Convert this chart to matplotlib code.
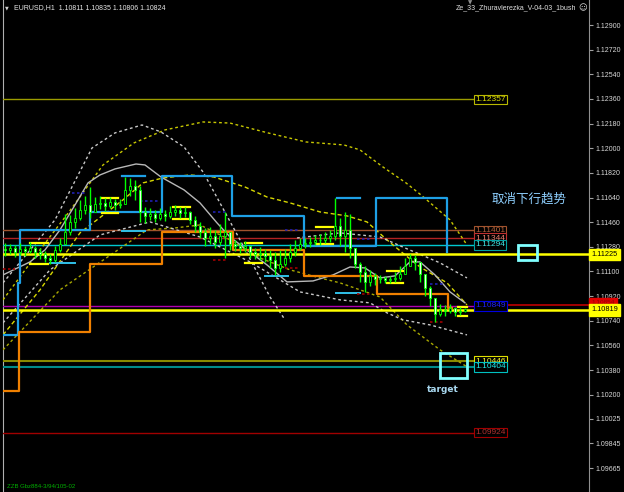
import matplotlib
matplotlib.use("Agg")
import matplotlib.pyplot as plt
from matplotlib.patches import Rectangle
import numpy as np

plt.rcParams['font.family'] = ['Liberation Sans', 'DejaVu Sans']

# ---------------- data ----------------
first_open = 1.11265
close = [1.11258, 1.11272, 1.11243, 1.11265, 1.11250, 1.11272, 1.11243, 1.11228, 1.11199, 1.11185,
         1.11258, 1.11301, 1.11389, 1.11462, 1.11491, 1.11550, 1.11586, 1.11535, 1.11593, 1.11601,
         1.11579, 1.11608, 1.11586, 1.11593, 1.11696, 1.11725, 1.11696, 1.11535, 1.11506, 1.11520,
         1.11491, 1.11520, 1.11506, 1.11535, 1.11550, 1.11528, 1.11535, 1.11477, 1.11433, 1.11389,
         1.11345, 1.11360, 1.11316, 1.11360, 1.11389, 1.11301, 1.11287, 1.11272, 1.11287, 1.11243,
         1.11228, 1.11236, 1.11214, 1.11185, 1.11126, 1.11155, 1.11199, 1.11243, 1.11272, 1.11301,
         1.11309, 1.11316, 1.11331, 1.11331, 1.11345, 1.11360, 1.11433, 1.11360, 1.11404, 1.11272,
         1.11155, 1.11097, 1.11024, 1.11068, 1.11046, 1.11053, 1.11039, 1.11046, 1.11053, 1.11082,
         1.11141, 1.11199, 1.11170, 1.11082, 1.10980, 1.10907, 1.10790, 1.10820, 1.10812, 1.10834,
         1.10805, 1.10811, 1.10824]
high = [1.11309, 1.11301, 1.11294, 1.11309, 1.11287, 1.11316, 1.11287, 1.11272, 1.11250, 1.11228,
        1.11287, 1.11345, 1.11520, 1.11513, 1.11564, 1.11623, 1.11652, 1.11717, 1.11644, 1.11652,
        1.11637, 1.11644, 1.11630, 1.11630, 1.11790, 1.11783, 1.11769, 1.11725, 1.11571, 1.11564,
        1.11550, 1.11564, 1.11550, 1.11579, 1.11586, 1.11571, 1.11571, 1.11542, 1.11506, 1.11462,
        1.11418, 1.11425, 1.11404, 1.11447, 1.11535, 1.11360, 1.11331, 1.11316, 1.11323, 1.11287,
        1.11272, 1.11279, 1.11265, 1.11258, 1.11243, 1.11258, 1.11265, 1.11301, 1.11331, 1.11345,
        1.11345, 1.11352, 1.11367, 1.11374, 1.11389, 1.11404, 1.11637, 1.11491, 1.11535, 1.11520,
        1.11228, 1.11170, 1.11141, 1.11112, 1.11090, 1.11075, 1.11068, 1.11068, 1.11097, 1.11141,
        1.11199, 1.11228, 1.11221, 1.11170, 1.11068, 1.10995, 1.10863, 1.10863, 1.10856, 1.10863,
        1.10841, 1.10841, 1.10835]
low = [1.11214, 1.11228, 1.11206, 1.11221, 1.11214, 1.11236, 1.11199, 1.11192, 1.11170, 1.11155,
       1.11170, 1.11243, 1.11316, 1.11367, 1.11418, 1.11477, 1.11520, 1.11491, 1.11550, 1.11557,
       1.11542, 1.11564, 1.11550, 1.11564, 1.11593, 1.11652, 1.11623, 1.11462, 1.11455, 1.11477,
       1.11462, 1.11477, 1.11469, 1.11491, 1.11506, 1.11491, 1.11498, 1.11447, 1.11389, 1.11345,
       1.11287, 1.11301, 1.11272, 1.11294, 1.11199, 1.11258, 1.11250, 1.11236, 1.11243, 1.11199,
       1.11192, 1.11185, 1.11170, 1.11126, 1.11075, 1.11097, 1.11141, 1.11170, 1.11214, 1.11258,
       1.11272, 1.11279, 1.11294, 1.11294, 1.11309, 1.11316, 1.11331, 1.11287, 1.11243, 1.11199,
       1.11126, 1.11024, 1.10951, 1.10995, 1.11002, 1.11017, 1.11017, 1.11017, 1.11024, 1.11039,
       1.11082, 1.11141, 1.11112, 1.11024, 1.10922, 1.10849, 1.10732, 1.10776, 1.10776, 1.10798,
       1.10776, 1.10783, 1.10806]

# step channels (bar position of each change, level)
blue_x = [-0.4, 2.6, 3.0, 17.0, 31.4, 45.4, 59.8, 74.2, 88.4]
blue_y = [1.10637, 1.11017, 1.11404, 1.11535, 1.11798, 1.11506, 1.11287, 1.11637, 1.11243]
orange_x = [-0.4, 2.8, 17.0, 31.4, 45.6, 59.8, 74.4, 88.6, 89.4]
orange_y = [1.10228, 1.10659, 1.11155, 1.11389, 1.11258, 1.11068, 1.10936, 1.10834, 1.10834]

# swing high/low markers: (start, end, level)
blue_marks = [(23.4, 28.0, 1.11798), (66.4, 71.0, 1.11637)]
cyan_marks = [(9.0, 14.0, 1.11163), (23.4, 28.0, 1.11396), (52.0, 56.6, 1.11068), (66.2, 71.0, 1.10944)]
day_hi_lo = [(5.0, 8.6, 1.11309, 1.11155), (19.4, 22.6, 1.11637, 1.11528), (33.6, 37.0, 1.11571, 1.11484),
             (48.0, 51.4, 1.11309, 1.11163), (62.2, 65.6, 1.11425, 1.11301), (76.4, 79.6, 1.11104, 1.11017),
             (90.6, 92.4, 1.10841, 1.10776)]
navy_marks = [(13.4, 16.0, 1.11674), (27.0, 30.6, 1.11615), (41.6, 44.6, 1.11535), (56.0, 59.0, 1.11404),
              (70.4, 73.4, 1.11338), (85.0, 87.6, 1.11009)]
darkred_marks = [(-0.4, 2.0, 1.11119), (41.6, 44.6, 1.11185), (56.0, 59.0, 1.11126), (70.4, 73.4, 1.10936),
                 (85.0, 87.6, 1.10732)]

# curves
ma_x = [-0.4, 5, 8, 11, 14, 16.6, 19, 22, 26.2, 28, 31.2, 35.8, 39, 42.4, 45, 48.4, 52.4, 56.4, 61.6, 65.6,
        69, 72, 75, 78, 81, 83, 86, 89, 92]
ma_y = [1.11075, 1.11170, 1.11258, 1.11404, 1.11586, 1.11747, 1.11805, 1.11849, 1.11885, 1.11878, 1.11790,
        1.11696, 1.11601, 1.11455, 1.11352, 1.11258, 1.11148, 1.11024, 1.11031, 1.11075, 1.11133, 1.11126,
        1.11053, 1.11068, 1.11170, 1.11170, 1.11075, 1.10951, 1.10871]
w_up_x = [-0.4, 10, 17.4, 22, 27.4, 31.2, 35.8, 39.6, 41.8, 47, 53, 56]
w_up_y = [1.11017, 1.11477, 1.12002, 1.12112, 1.12170, 1.12119, 1.12010, 1.11827, 1.11681, 1.11331, 1.10914, 1.10747]
w_up2_x = [58.4, 67, 75, 80, 87, 92.4]
w_up2_y = [1.11345, 1.11382, 1.11352, 1.11272, 1.11163, 1.11053]
w_lo_x = [-0.4, 9, 19, 29, 39, 49, 59, 67, 73, 76.4, 79.6, 85, 92.4]
w_lo_y = [1.10725, 1.11112, 1.11367, 1.11462, 1.11352, 1.11170, 1.10951, 1.10893, 1.10871, 1.10798, 1.10747,
          1.10710, 1.10637]
y1_x = [-0.4, 7, 12.8, 19.6, 25.8, 32, 39.6, 45, 52.6, 60.2, 67.8, 71, 75.6, 80.2, 83.2, 89, 92.4]
y1_y = [1.10893, 1.11258, 1.11535, 1.11878, 1.12039, 1.12134, 1.12192, 1.12184, 1.12112, 1.12046, 1.12024,
        1.11988, 1.11863, 1.11747, 1.11659, 1.11477, 1.11294]
y2_x = [-0.4, 7, 15, 23.6, 27.6, 31.6, 37, 41.8, 48, 52.4, 57, 63, 68.4, 72.4, 76.4, 80, 83, 88.4, 92.4]
y2_y = [1.10637, 1.10966, 1.11382, 1.11623, 1.11747, 1.11783, 1.11805, 1.11790, 1.11717, 1.11644, 1.11601,
        1.11535, 1.11506, 1.11462, 1.11331, 1.11221, 1.11133, 1.11017, 1.10856]
y3_x = [-0.4, 11, 28.4, 34, 39, 45, 51, 57, 63, 67, 71, 75, 80.4, 87, 92.4]
y3_y = [1.10528, 1.10966, 1.11404, 1.11418, 1.11440, 1.11331, 1.11199, 1.11112, 1.11053, 1.11017, 1.10966,
        1.10914, 1.10710, 1.10528, 1.10404]

# labelled levels: value, line colour, text colour
levels = [1.12357, 1.11401, 1.11344, 1.11294, 1.10849, 1.10446, 1.10404, 1.09924]
level_line = ['#9C9C00', '#A0522D', '#B22222', '#00C8D0', '#B000B0', '#8A8A00', '#008B8B', '#A00000']
level_text = ['#E0E000', '#B0603A', '#F08070', '#40E8E8', '#2020FF', '#FFFF30', '#20F0F0', '#B03030']
level_edge = ['#B8B800', '#A0522D', '#C03030', '#00A0A0', '#0000E0', '#E0E000', '#00C0C0', '#A00000']
yellow_levels = [1.11225, 1.10819]
red_level = 1.10854

tick_vals = [1.12900, 1.12720, 1.12540, 1.12360, 1.12180, 1.12000, 1.11820, 1.11640, 1.11460, 1.11280,
             1.11100, 1.10920, 1.10740, 1.10560, 1.10380, 1.10200, 1.10025, 1.09845, 1.09665]
tick_labels = ['1.12900', '1.12720', '1.12540', '1.12360', '1.12180', '1.12000', '1.11820', '1.11640',
               '1.11460', '1.11280', '1.11100', '1.10920', '1.10740', '1.10560', '1.10380', '1.10200',
               '1.10025', '1.09845', '1.09665']

target_boxes = [(102.6, 106.4, 1.11185, 1.11294), (87.0, 92.4, 1.10323, 1.10506)]
label_box_x = 94.0
line_end_x = 94.0

# ---------------- figure ----------------
fig = plt.figure(figsize=(6.24, 4.92), dpi=100, facecolor='black')
ax = fig.add_axes([3 / 624, 0, 586 / 624, 1])
ax.set_facecolor('black')
ax.set_xlim(-0.4, 116.8)
ax.set_ylim(1.094898, 1.130826)
for s in ['top', 'bottom']:
    ax.spines[s].set_visible(False)
ax.spines['left'].set_color('#B0B0B0')
ax.spines['right'].set_color('#909090')
ax.set_xticks([])
ax.yaxis.tick_right()
ax.set_yticks(tick_vals)
ax.set_yticklabels(tick_labels)
ax.tick_params(axis='y', colors='#A0A0A0', labelcolor='#D8D8D8', length=3, width=0.8, pad=2, labelsize=5)

xmin, xmax = ax.get_xlim()

# horizontal levels
for v, lc in zip(levels, level_line):
    lw = 1.5 if v in (1.10446, 1.10404) else 1.0
    ax.plot([xmin, line_end_x], [v, v], color=lc, lw=lw, zorder=3)
ax.plot([label_box_x + 6.4, xmax], [red_level, red_level], color='#C00000', lw=1.2, zorder=3)
for v in yellow_levels:
    ax.plot([xmin, xmax], [v, v], color='#FFFF00', lw=1.8, zorder=4)

# envelopes
ax.plot(y1_x, y1_y, color='#C8C800', lw=1, ls=(0, (2, 2)), zorder=3)
ax.plot(y2_x, y2_y, color='#D8D800', lw=1, ls=(0, (3, 2)), zorder=3)
ax.plot(y3_x, y3_y, color='#A8A800', lw=1, ls=(0, (2, 2)), zorder=3)
ax.plot(w_up_x, w_up_y, color='#C8C8C8', lw=1, ls=(0, (2, 2)), zorder=3)
ax.plot(w_up2_x, w_up2_y, color='#C8C8C8', lw=1, ls=(0, (2, 2)), zorder=3)
ax.plot(w_lo_x, w_lo_y, color='#C8C8C8', lw=1, ls=(0, (2, 2)), zorder=3)
ax.plot(ma_x, ma_y, color='#B8B8B8', lw=1, zorder=3)

# step channels
ax.step(blue_x, blue_y, where='post', color='#1EA0E6', lw=1.6, zorder=4)
ax.step(orange_x, orange_y, where='post', color='#F08000', lw=1.6, zorder=4)

for a, b, v in blue_marks:
    ax.plot([a, b], [v, v], color='#1EA0E6', lw=1.6, zorder=4)
for a, b, v in cyan_marks:
    ax.plot([a, b], [v, v], color='#30C0E8', lw=1.4, zorder=4)
for a, b, hi, lo in day_hi_lo:
    ax.plot([a, b], [hi, hi], color='#FFFF00', lw=1.6, zorder=4)
    ax.plot([a, b], [lo, lo], color='#FFFF00', lw=1.6, zorder=4)
for a, b, v in navy_marks:
    ax.plot([a, b], [v, v], color='#2020B0', lw=1.2, ls=(0, (1.5, 1.5)), zorder=4)
for a, b, v in darkred_marks:
    ax.plot([a, b], [v, v], color='#A00000', lw=1.2, ls=(0, (1.5, 1.5)), zorder=4)

# candles
c = np.array(close)
o = np.array([first_open] + close[:-1])
h = np.array(high)
l = np.array(low)
x = np.arange(len(c))
ax.vlines(x, l, h, color='#00FF00', lw=1, zorder=6)
bull = c >= o
bottom = np.minimum(o, c)
height = np.maximum(np.abs(c - o), 0.00002)
ax.bar(x, height, bottom=bottom, width=0.45, color=np.where(bull, 'black', '#E8FFE8'),
       edgecolor='#00FF00', lw=0.6, zorder=7)

# level label boxes
for v, tc, ec in zip(levels, level_text, level_edge):
    ax.text(label_box_x, v, f'{v:.5f}', color=tc, fontsize=6, va='center', ha='left', zorder=10,
            bbox=dict(boxstyle='square,pad=0.15', fc='black', ec=ec, lw=0.8))

# axis price boxes
ytr = ax.get_yaxis_transform()
ax.text(1.004, red_level, f'{red_level:.5f}', transform=ytr, color='#900000', fontsize=4.6, va='bottom',
        ha='left', clip_on=False, zorder=11, bbox=dict(boxstyle='square,pad=0.3', fc='#E00000', ec='#E00000'))
for v in yellow_levels:
    ax.text(1.004, v, f'{v:.5f}', transform=ytr, color='black', fontsize=5.3, va='center', ha='left',
            clip_on=False, zorder=12, bbox=dict(boxstyle='square,pad=0.3', fc='#FFFF00', ec='#FFFF00'))

# target squares
for x0, x1, y0, y1 in target_boxes:
    ax.add_patch(Rectangle((x0, y0), x1 - x0, y1 - y0, fill=False, ec='#80FFFF', lw=2, zorder=9))

ax.text(97.4, 1.11630, '取消下行趋势', color='#8FD0FF', fontsize=9, va='center', ha='left',
        family=['Noto Sans CJK SC', 'DejaVu Sans'], zorder=10)
ax.text(84.4, 1.10236, 'target', color='#A8D8F0', fontsize=6.5, fontweight='bold', va='center', ha='left',
        family=['DejaVu Sans'], zorder=10)

# header texts
fig.text(5 / 624, 1 - 8 / 492, '▼', color='#D0D0D0', fontsize=3.5, va='center', ha='left', family=['DejaVu Sans'])
fig.text(14 / 624, 1 - 8 / 492, 'EURUSD,H1  1.10811 1.10835 1.10806 1.10824', color='#E8E8E8', fontsize=5.0,
         va='center', ha='left')
fig.text(576 / 624, 1 - 8 / 492, 'Ze_33_Zhuravlerezka_V-04-03_1bush', color='#E0E0E0', fontsize=5.0,
         va='center', ha='right')
fig.text(578 / 624, 1 - 8 / 492, '☺', color='#E0E0E0', fontsize=6, va='center', ha='left', family=['DejaVu Sans'])
fig.text(470 / 624, 1 - 3 / 492, '▼', color='#909090', fontsize=4, va='center', ha='center', family=['DejaVu Sans'])
fig.text(7 / 624, 1 - 486 / 492, 'ZZB Gbz884-3/94/105-02', color='#00B000', fontsize=4.3, va='center', ha='left')

fig.savefig('out.png', dpi=100, facecolor='black')
